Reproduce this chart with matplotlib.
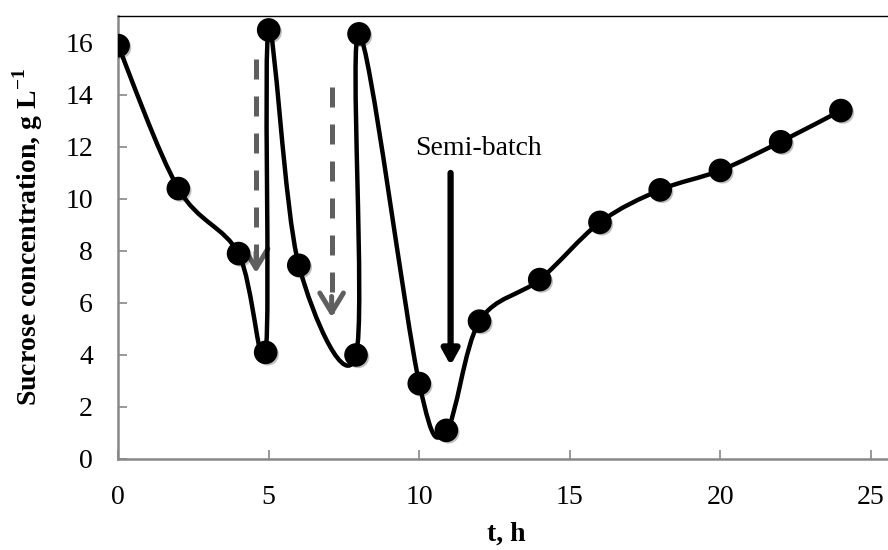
import numpy as np
import matplotlib
matplotlib.use("Agg")
import matplotlib.pyplot as plt
from matplotlib.path import Path
from matplotlib.patches import PathPatch
import matplotlib.patheffects as pe

# Data
t_h = [0, 2, 4, 4.9, 5, 6, 7.9, 8, 10, 10.9, 12, 14, 16, 18, 20, 22, 24]
sucrose = [15.9, 10.4, 7.9, 4.1, 16.5, 7.45, 4.0, 16.35, 2.9, 1.1, 5.3, 6.9, 9.1, 10.35, 11.1, 12.2, 13.4]
x_ticks = [0, 5, 10, 15, 20, 25]
y_ticks = [0, 2, 4, 6, 8, 10, 12, 14, 16]

plt.rcParams['font.family'] = ['Liberation Serif', 'DejaVu Serif']
plt.rcParams['mathtext.fontset'] = 'custom'
plt.rcParams['mathtext.rm'] = 'Liberation Serif'
plt.rcParams['mathtext.bf'] = 'Liberation Serif:bold'

fig = plt.figure(figsize=(8.88, 5.5), dpi=100)
ax = fig.add_axes([0.133, 0.1655, 0.875, 0.806])
ax.set_xlim(0, 25.8)
ax.set_ylim(0, 17.05)

# Smoothed line (Excel-like Catmull-Rom Bezier through the points)
x = np.array(t_h, float)
y = np.array(sucrose, float)
pts = np.column_stack([x, y])
n = len(pts)
verts = [tuple(pts[0])]
codes = [Path.MOVETO]
for i in range(n - 1):
    p0 = pts[i - 1] if i > 0 else pts[i]
    p1 = pts[i]
    p2 = pts[i + 1]
    p3 = pts[i + 2] if i + 2 < n else pts[i + 1]
    c1 = p1 + (p2 - p0) / 6.0
    c2 = p2 - (p3 - p1) / 6.0
    verts += [tuple(c1), tuple(c2), tuple(p2)]
    codes += [Path.CURVE4] * 3
ax.add_patch(PathPatch(Path(verts, codes), facecolor='none', edgecolor='black',
                       lw=3.2, zorder=3, capstyle='round', joinstyle='round'))
ax.plot(t_h, sucrose, linestyle='none', marker='o', ms=16, color='black', zorder=4,
        path_effects=[pe.SimplePatchShadow(offset=(1.5, -1.5), alpha=0.25), pe.Normal()])

# Feed arrows (dashed gray shaft + solid open head)
gray = '#5f5f5f'
for xa, y0, y1 in [(4.58, 15.4, 7.15), (7.09, 14.3, 5.45)]:
    ax.plot([xa, xa], [y0, y1 + 0.15], color=gray, lw=3.6, dashes=(4.0, 3.4),
            solid_capstyle='butt', dash_capstyle='butt', zorder=2)
    ax.annotate('', xy=(xa, y1), xytext=(xa, y1 + 0.8),
                arrowprops=dict(arrowstyle='->,head_length=1.4,head_width=0.85', color=gray,
                                lw=3.6, shrinkA=0, shrinkB=0),
                zorder=2)
# Semi-batch arrow
ax.annotate('', xy=(11.04, 3.6), xytext=(11.04, 11.0),
            arrowprops=dict(arrowstyle='-|>,head_length=0.9,head_width=0.5', color='black',
                            lw=4.5, shrinkA=0, shrinkB=0), zorder=2)
ax.text(11.97, 11.95, 'Semi-batch', fontsize=20, ha='center', va='center')

ax.set_xticks(x_ticks)
ax.set_yticks(y_ticks)
ax.tick_params(direction='in', length=6.5, width=1.2, color='#888888', labelsize=20)
ax.tick_params(axis='y', pad=18)
ax.tick_params(axis='x', pad=19)
for s in ['left', 'bottom']:
    ax.spines[s].set_color('#888888')
    ax.spines[s].set_linewidth(1.8)
ax.spines['top'].set_color('black')
ax.spines['top'].set_linewidth(1.0)
ax.spines['right'].set_visible(False)

ax.set_xlabel('t, h', fontsize=20, fontweight='bold', labelpad=8)
ax.set_ylabel('Sucrose concentration, g L$^{\\mathbf{-1}}$', fontsize=20, fontweight='bold', labelpad=15)

fig.savefig('out.png', dpi=100)
